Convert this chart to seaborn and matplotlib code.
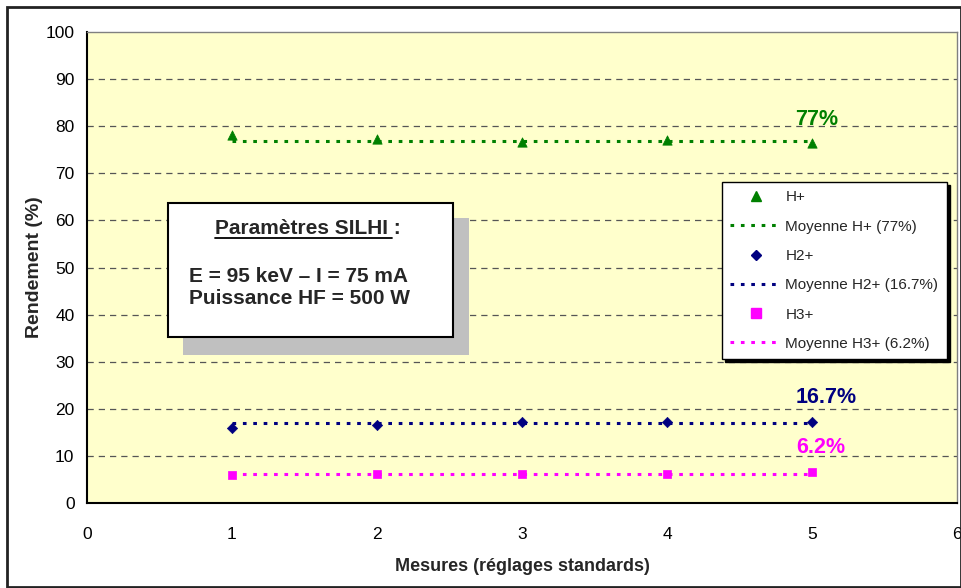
import numpy as np
import pandas as pd
import matplotlib
matplotlib.use("Agg")
import matplotlib.pyplot as plt
import seaborn as sns
from matplotlib.patches import Rectangle
from matplotlib.lines import Line2D

# data
mesures = [1, 2, 3, 4, 5]
h1 = [78.1, 77.3, 76.6, 77.0, 76.4]
h2 = [16.0, 16.6, 17.1, 17.1, 17.1]
h3 = [5.9, 6.2, 6.2, 6.2, 6.5]
moy_x = [1, 5]
moy_h1 = [76.9, 76.9]
moy_h2 = [16.9, 16.9]
moy_h3 = [6.1, 6.1]
labels_moy = ["77%", "16.7%", "6.2%"]

green = "#008000"
navy = "#000080"
magenta = "#FF00FF"

sns.set_style("white")
plt.rcParams["font.family"] = ["Liberation Sans", "DejaVu Sans"]

fig = plt.figure(figsize=(9.61, 5.88), dpi=100)
W, H = 961, 588
ax = fig.add_axes([87 / W, 1 - 503 / H, (957 - 87) / W, (503 - 32) / H])
ax.set_facecolor("#FFFFCC")

# outer chart frame
fig.patches.append(Rectangle((7 / W, 1 / H), (W - 7) / W, (H - 8) / H, transform=fig.transFigure,
                             fill=False, edgecolor="#222222", linewidth=2))

# mean lines
dots = (0, (1.2, 2.2))
sns.lineplot(x=moy_x, y=moy_h1, color=green, linestyle=dots, linewidth=2.2, ax=ax)
sns.lineplot(x=moy_x, y=moy_h2, color=navy, linestyle=dots, linewidth=2.2, ax=ax)
sns.lineplot(x=moy_x, y=moy_h3, color=magenta, linestyle=dots, linewidth=2.2, ax=ax)

# points
sns.scatterplot(x=mesures, y=h1, marker="^", s=45, color=green, edgecolor=green, ax=ax, zorder=3)
sns.scatterplot(x=mesures, y=h2, marker="D", s=28, color=navy, edgecolor=navy, ax=ax, zorder=3)
sns.scatterplot(x=mesures, y=h3, marker="s", s=40, color=magenta, edgecolor=magenta, ax=ax, zorder=3)

ax.set_xlim(0, 6)
ax.set_ylim(0, 100)
ax.set_xticks(range(0, 7))
ax.set_yticks(range(0, 101, 10))
for y in range(10, 100, 10):
    ax.axhline(y, color="#555555", linestyle=(0, (5, 4)), linewidth=0.9, zorder=0)

for side in ["top", "right"]:
    ax.spines[side].set_color("#808080")
    ax.spines[side].set_linewidth(1)
for side in ["left", "bottom"]:
    ax.spines[side].set_color("black")
    ax.spines[side].set_linewidth(1.5)

ax.tick_params(axis="both", direction="out", length=5, width=1.2, color="#808080",
               labelsize=12.5, pad=4, labelcolor="black")
ax.tick_params(axis="x", pad=12)
ax.set_xlabel("Mesures (réglages standards)", fontsize=13, fontweight="bold", labelpad=12)
ax.set_ylabel("Rendement (%)", fontsize=14, fontweight="bold", labelpad=2)

# mean labels
ax.text(5.03, 79.2, labels_moy[0], color=green, fontsize=15.5, fontweight="bold", ha="center", va="bottom")
ax.text(5.1, 20.2, labels_moy[1], color=navy, fontsize=15.5, fontweight="bold", ha="center", va="bottom")
ax.text(5.06, 9.5, labels_moy[2], color=magenta, fontsize=15.5, fontweight="bold", ha="center", va="bottom")

# parameters box with shadow
def ax_x(px):
    return (px - 87) / (957 - 87)

def ax_y(py):
    return (503 - py) / (503 - 32)

ax.add_patch(Rectangle((ax_x(183), ax_y(355)), ax_x(469) - ax_x(183), ax_y(218) - ax_y(355),
                       transform=ax.transAxes, facecolor="#C0C0C0", edgecolor="none", zorder=4))
ax.add_patch(Rectangle((ax_x(168), ax_y(337)), ax_x(453) - ax_x(168), ax_y(203) - ax_y(337),
                       transform=ax.transAxes, facecolor="white", edgecolor="black", linewidth=1.5, zorder=5))
ax.text(ax_x(215), ax_y(228), "Paramètres SILHI :", transform=ax.transAxes, fontsize=15,
        fontweight="bold", ha="left", va="center", zorder=6)
ax.add_line(Line2D([ax_x(215), ax_x(392)], [ax_y(238), ax_y(238)], transform=ax.transAxes,
                   color="black", linewidth=1.3, zorder=6))
ax.text(ax_x(189), ax_y(276), "E = 95 keV – I = 75 mA", transform=ax.transAxes, fontsize=15,
        fontweight="bold", ha="left", va="center", zorder=6)
ax.text(ax_x(189), ax_y(298), "Puissance HF = 500 W", transform=ax.transAxes, fontsize=15,
        fontweight="bold", ha="left", va="center", zorder=6)

# legend
handles = [
    Line2D([], [], marker="^", linestyle="none", color=green, markersize=7),
    Line2D([], [], color=green, linestyle=dots, linewidth=2.2),
    Line2D([], [], marker="D", linestyle="none", color=navy, markersize=5),
    Line2D([], [], color=navy, linestyle=dots, linewidth=2.2),
    Line2D([], [], marker="s", linestyle="none", color=magenta, markersize=6.5),
    Line2D([], [], color=magenta, linestyle=dots, linewidth=2.2),
]
names = ["H+", "Moyenne H+ (77%)", "H2+", "Moyenne H2+ (16.7%)", "H3+", "Moyenne H3+ (6.2%)"]
leg = ax.legend(handles, names, loc="upper left",
                bbox_to_anchor=(ax_x(722), ax_y(182)), fontsize=11, frameon=True, fancybox=False,
                shadow={"color": "black", "alpha": 1, "ox": 2, "oy": -2},
                handlelength=3.3, handletextpad=0.3, labelspacing=1.0, borderpad=0.55,
                borderaxespad=0)
leg.get_frame().set_edgecolor("black")
leg.get_frame().set_linewidth(1)
leg.get_frame().set_facecolor("white")
leg.set_zorder(7)

fig.savefig("out.png", dpi=100, facecolor="white")
